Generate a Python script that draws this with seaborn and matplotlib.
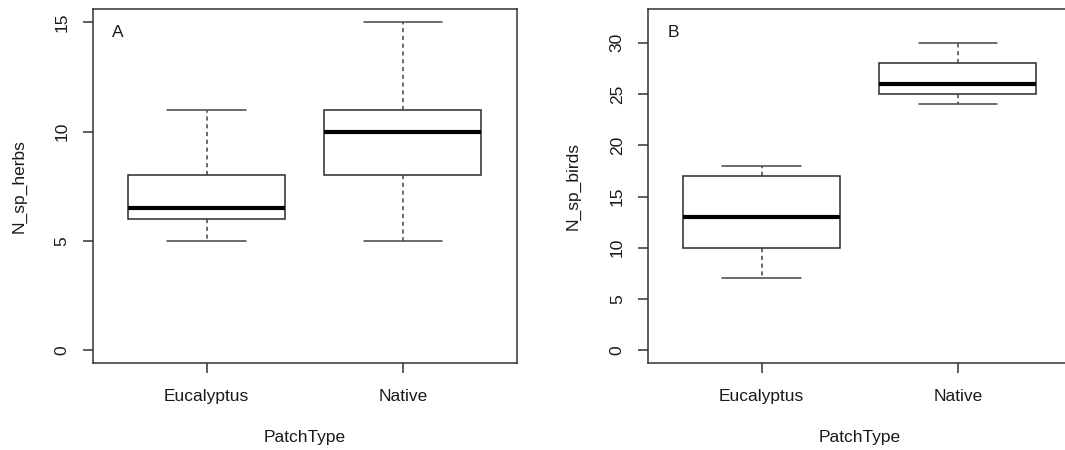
import numpy as np
import pandas as pd
import matplotlib
matplotlib.use("Agg")
import matplotlib.pyplot as plt
import seaborn as sns

# ── Data (five-number summaries) ─────────────────────────────────────────────
patch_types = ["Eucalyptus", "Native"]
herbs_eucalyptus = [5, 6, 6.5, 8, 11]
herbs_native = [5, 8, 10, 11, 15]
birds_eucalyptus = [7, 10, 13, 17, 18]
birds_native = [24, 25, 26, 28, 30]

herbs_ticks = [0, 5, 10, 15]
birds_ticks = [0, 5, 10, 15, 20, 25, 30]


def long_frame(euc, nat, col):
    return pd.DataFrame({
        "PatchType": ["Eucalyptus"] * len(euc) + ["Native"] * len(nat),
        col: list(euc) + list(nat),
    })


herbs = long_frame(herbs_eucalyptus, herbs_native, "N_sp_herbs")
birds = long_frame(birds_eucalyptus, birds_native, "N_sp_birds")

# ── Style ────────────────────────────────────────────────────────────────────
sns.set_theme(style="ticks")
plt.rcParams["font.family"] = ["Liberation Sans", "DejaVu Sans"]
plt.rcParams.update({
    "font.size": 12.5,
    "axes.edgecolor": "#333333",
    "axes.linewidth": 1.1,
    "xtick.color": "#333333",
    "ytick.color": "#333333",
    "xtick.labelcolor": "#1a1a1a",
    "ytick.labelcolor": "#1a1a1a",
    "text.color": "#1a1a1a",
    "axes.labelcolor": "#1a1a1a",
    "lines.scale_dashes": False,
})

LINE = "#2a2a2a"

fig = plt.figure(figsize=(10.65, 4.5), dpi=100)
ax_a = fig.add_axes([0.0870, 0.1927, 0.3981, 0.7867])
ax_b = fig.add_axes([0.6082, 0.1927, 0.3981, 0.7867])


def r_boxplot(ax, df, col, ylim, yticks, tag, ylabel_x):
    sns.boxplot(
        data=df, x="PatchType", y=col, order=patch_types, ax=ax,
        color="white", linecolor=LINE, linewidth=1.1, width=0.8,
        showfliers=False, saturation=1,
        whiskerprops={"linestyle": (0, (3.0, 2.6)), "color": "#444444"},
        medianprops={"linewidth": 3.0, "color": "black"},
        capprops={"color": "#444444"},
    )
    ax.set_xlim(0.42 - 1, 2.58 - 1)
    ax.set_ylim(*ylim)
    ax.set_yticks(yticks)
    ax.set_yticklabels([str(t) for t in yticks], rotation=90, va="center")
    ax.tick_params(axis="both", length=7.5, width=1.1, labelsize=12.5)
    ax.tick_params(axis="x", pad=11)
    ax.tick_params(axis="y", pad=9)
    for s in ax.spines.values():
        s.set_visible(True)
        s.set_color("#333333")
    ax.set_xlabel("PatchType", fontsize=12.5)
    ax.set_ylabel(col, fontsize=12.5)
    ax.xaxis.set_label_coords(0.5, -0.211)
    ax.xaxis.label.set_va("center")
    ax.yaxis.set_label_coords(ylabel_x, 0.5)
    ax.yaxis.label.set_va("center")
    ax.text(0.06, 0.933, tag, transform=ax.transAxes, fontsize=12.5,
            ha="center", va="center")
    ax.grid(False)


r_boxplot(ax_a, herbs, "N_sp_herbs", (-0.6, 15.6), herbs_ticks, "A", -0.174)
r_boxplot(ax_b, birds, "N_sp_birds", (-1.28, 33.28), birds_ticks, "B", -0.176)

fig.savefig("out.png", dpi=100, facecolor="white")
